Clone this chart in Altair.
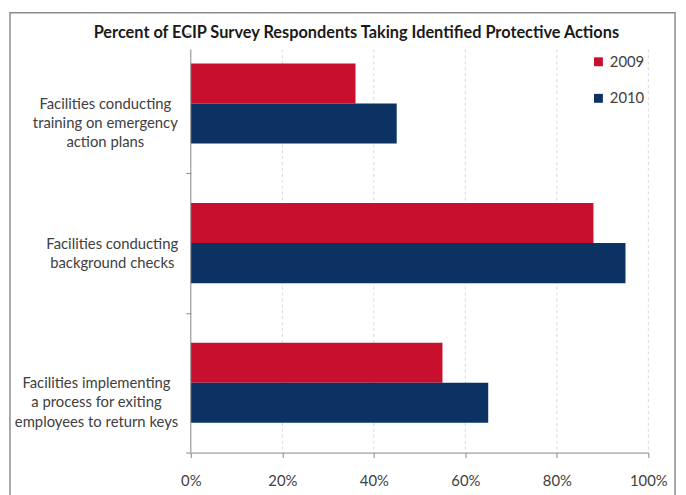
import altair as alt
import pandas as pd

categories = [
    "Facilities conducting|training on emergency|action plans",
    "Facilities conducting|background checks",
    "Facilities implementing|a process for exiting|employees to return keys",
]
years = ["2009", "2010"]
values_2009 = [0.36, 0.88, 0.55]
values_2010 = [0.45, 0.95, 0.65]
x_ticks = [0, 0.2, 0.4, 0.6, 0.8, 1.0]
grid_ticks = [0.2, 0.4, 0.6, 0.8, 1.0]
colors = ["#C8102E", "#0B3263"]

rows = []
for c, v1, v2 in zip(categories, values_2009, values_2010):
    rows.append({"category": c, "year": "2009", "value": v1})
    rows.append({"category": c, "year": "2010", "value": v2})
df = pd.DataFrame(rows)

FONT = "Lato"
GRAY = "#868686"
TXT = "#404040"

pad_cond = {
    "condition": [
        {"test": f"datum.value == '{categories[0]}'", "value": 82},
        {"test": f"datum.value == '{categories[1]}'", "value": 75},
    ],
    "value": 91,
}

bars = alt.Chart(df).mark_bar().encode(
    x=alt.X(
        "value:Q",
        scale=alt.Scale(domain=[0, 1]),
        axis=alt.Axis(
            format="%", values=x_ticks, grid=False, title=None,
            domainColor=GRAY, tickColor=GRAY, tickSize=5,
            labelFont=FONT, labelFontSize=15, labelColor=TXT, labelPadding=16,
            labelFlush=False,
        ),
    ),
    y=alt.Y(
        "category:N", sort=categories,
        scale=alt.Scale(paddingInner=0, paddingOuter=0),
        axis=alt.Axis(
            title=None, domain=False, grid=False, tickBand="extent",
            tickColor=GRAY, tickSize=5,
            labelExpr="split(datum.label, '|')",
            labelFont=FONT, labelFontSize=15, labelColor=TXT,
            labelLineHeight=19.5, labelAlign="center", labelBaseline="middle",
            labelPadding=pad_cond, labelLimit=400,
        ),
    ),
    yOffset=alt.YOffset(
        "year:N", sort=years,
        scale=alt.Scale(paddingInner=0, paddingOuter=0.744),
    ),
    color=alt.Color(
        "year:N",
        scale=alt.Scale(domain=years, range=colors),
        legend=alt.Legend(
            title=None, orient="none", legendX=405, legendY=21,
            symbolType="square", symbolSize=81, symbolStrokeWidth=0,
            labelFont=FONT, labelFontSize=15, labelColor=TXT,
            rowPadding=21, labelOffset=4,
        ),
    ),
)

grid = alt.Chart(pd.DataFrame({"v": grid_ticks})).mark_rule(
    color="#D9D9D9", strokeDash=[3, 3], strokeWidth=1
).encode(x="v:Q", y=alt.value(16), y2=alt.value(424))

yaxis_line = alt.Chart(pd.DataFrame({"v": [0]})).mark_rule(
    color=GRAY, strokeWidth=1
).encode(x="v:Q", y=alt.value(16), y2=alt.value(424))

frame = alt.Chart(pd.DataFrame({"v": [0]})).mark_rect(
    fillOpacity=0, stroke="#8C8C8C", strokeWidth=1.5
).encode(
    x=alt.value(-183), x2=alt.value(490), y=alt.value(-21), y2=alt.value(475)
)

chart = alt.layer(frame, grid, bars, yaxis_line).properties(
    width=463,
    height=424,
    autosize="none",
    padding={"left": 185, "top": 23, "right": 30, "bottom": 40},
    title=alt.TitleParams(
        "Percent of ECIP Survey Respondents Taking Identified Protective Actions",
        font=FONT, fontSize=16.5, fontWeight="bold", color="#1A1A1A",
        anchor="middle", dx=-64, offset=0, baseline="alphabetic", dy=43,
    ),
).configure_view(strokeWidth=0)

chart.save("out.html", embed_options={"renderer": "svg", "actions": False})
